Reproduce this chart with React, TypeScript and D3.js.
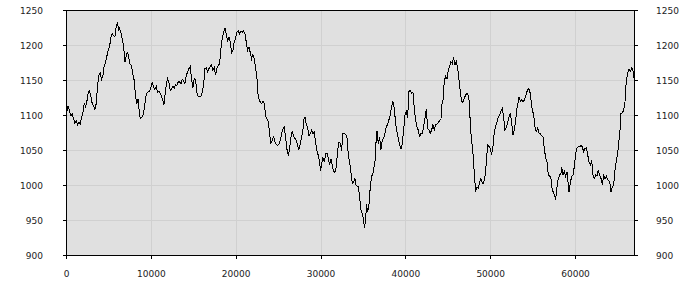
import React from "react";
import * as d3 from "d3";

const xValues: number[] = [
  0, 201, 358, 515, 672, 829, 987, 1144, 1301, 1458, 1615, 1773, 1930, 2087, 2244, 2401, 2559, 2716, 2873, 3030, 3187, 3345, 3502, 3659, 3816, 3973, 4131, 4288, 4445, 4602, 4759, 4917, 5074, 5231, 5388, 5545, 5703, 5860, 6017, 6135, 6253, 6410, 6567, 6724, 6882, 7039, 7196, 7353, 7510, 7668, 7825, 7982, 8139, 8296, 8454, 8611, 8768, 8925, 9082, 9240, 9397, 9554, 9790, 9947, 10104, 10261, 10419, 10576, 10733, 10890,
  11047, 11204, 11361, 11479, 11597, 11754, 11912, 12069, 12226, 12383, 12540, 12698, 12855, 13012, 13169, 13326, 13484, 13641, 13798, 13955, 14112, 14270, 14427, 14584, 14741, 14898, 15056, 15213, 15370, 15527, 15684, 15842, 15999, 16156, 16313, 16470, 16628, 16785, 16942, 17099, 17256, 17414, 17571, 17728, 17885, 18042, 18200, 18357, 18514, 18671, 18828, 18986, 19143, 19300, 19457, 19614, 19772, 19929, 20086, 20243, 20400, 20558, 20715, 20872, 21029, 21186, 21344, 21501, 21658, 21815, 21972, 22130, 22287, 22444,
  22563, 22680, 22838, 22995, 23152, 23309, 23466, 23624, 23781, 23938, 24095, 24252, 24410, 24567, 24724, 24881, 25038, 25196, 25353, 25510, 25667, 25824, 25982, 26139, 26296, 26453, 26610, 26768, 26925, 27082, 27239, 27396, 27554, 27711, 27868, 27986, 28104, 28261, 28418, 28575, 28733, 28890, 29047, 29204, 29361, 29519, 29676, 29833, 29951, 30108, 30226, 30383, 30540, 30698, 30855, 31012, 31169, 31326, 31484, 31641, 31798, 31955, 32112, 32270, 32427, 32584, 32741, 32898, 33056, 33213, 33370, 33527,
  33684, 33841, 33998, 34077, 34234, 34391, 34549, 34706, 34863, 35020, 35138, 35256, 35374, 35492, 35649, 35806, 35963, 36121, 36278, 36435, 36514, 36592, 36749, 36907, 37064, 37221, 37378, 37535, 37693, 37850, 38007, 38164, 38321, 38479, 38636, 38793, 38950, 39107, 39265, 39422, 39579, 39736, 39893, 40051, 40208, 40365, 40522, 40679, 40837, 40994, 41151, 41308, 41465, 41623, 41780, 41937, 42094, 42251, 42409, 42566, 42723, 42880, 43037, 43195, 43352, 43509, 43666, 43823, 43981, 44138, 44216, 44374, 44531, 44688, 44845,
  45002, 45159, 45316, 45474, 45631, 45788, 45945, 46102, 46260, 46417, 46574, 46731, 46888, 47046, 47203, 47360, 47517, 47596, 47753, 47910, 48067, 48225, 48382, 48539, 48696, 48853, 49011, 49168, 49325, 49482, 49639, 49797, 49954, 50111, 50268, 50425, 50583, 50740, 50897, 51054, 51211, 51369, 51526, 51683, 51840, 51997, 52155, 52312, 52469, 52626, 52783, 52941, 53098, 53255, 53334, 53491, 53648, 53805, 53962, 54120, 54277, 54434, 54591, 54748, 54906, 55063, 55220, 55377, 55534, 55692,
  55849, 56006, 56163, 56321, 56478, 56635, 56792, 56949, 57107, 57264, 57421, 57578, 57657, 57814, 57971, 58128, 58286, 58364, 58521, 58679, 58836, 58993, 59150, 59229, 59386, 59543, 59700, 59858, 60015, 60172, 60329, 60486, 60644, 60801, 60958, 61115, 61272, 61430, 61587, 61744, 61901, 62058, 62216, 62373, 62530, 62687, 62844, 63002, 63159, 63316, 63473, 63630, 63788, 63945, 64102, 64181, 64338, 64495, 64652, 64810, 64967, 65124, 65281, 65360, 65517, 65674, 65832, 65989, 66146, 66303, 66460, 66618, 66775, 66932,
];

const prices: number[] = [
  1104, 1114, 1106, 1100, 1102, 1096, 1089, 1093, 1086, 1090, 1088, 1098, 1103, 1117, 1113, 1120, 1133, 1135, 1128, 1117, 1113, 1109, 1117, 1142, 1157, 1161, 1152, 1157, 1171, 1176, 1185, 1193, 1198, 1212, 1217, 1214, 1212, 1227, 1233, 1222, 1225, 1218, 1210, 1200, 1176, 1185, 1191, 1181, 1173, 1171, 1159, 1150, 1128, 1117, 1124, 1099, 1096, 1098, 1103, 1117, 1130, 1133, 1135, 1140, 1147, 1141, 1137, 1142, 1133, 1135,
  1132, 1128, 1121, 1115, 1128, 1143, 1153, 1148, 1136, 1138, 1142, 1139, 1144, 1143, 1148, 1148, 1145, 1152, 1150, 1145, 1157, 1162, 1167, 1170, 1152, 1140, 1153, 1151, 1133, 1127, 1127, 1127, 1133, 1143, 1167, 1168, 1163, 1167, 1170, 1172, 1164, 1169, 1158, 1167, 1171, 1174, 1195, 1210, 1219, 1225, 1217, 1207, 1212, 1206, 1190, 1193, 1205, 1210, 1219, 1221, 1217, 1220, 1219, 1221, 1217, 1205, 1193, 1198, 1190, 1181, 1187, 1181, 1167, 1155,
  1131, 1124, 1119, 1117, 1120, 1117, 1100, 1095, 1092, 1074, 1060, 1064, 1071, 1062, 1059, 1057, 1059, 1064, 1074, 1081, 1083, 1069, 1052, 1043, 1052, 1069, 1078, 1071, 1067, 1065, 1057, 1051, 1060, 1069, 1079, 1095, 1098, 1088, 1083, 1071, 1074, 1079, 1074, 1076, 1062, 1050, 1043, 1033, 1021, 1033, 1040, 1033, 1045, 1046, 1040, 1029, 1038, 1029, 1020, 1019, 1026, 1050, 1062, 1060, 1050, 1074, 1075, 1073, 1069, 1045, 1033, 1019,
  1003, 1005, 1010, 1001, 999, 998, 984, 965, 960, 950, 939, 953, 973, 962, 972, 998, 1013, 1017, 1029, 1041, 1075, 1078, 1060, 1069, 1051, 1065, 1067, 1075, 1084, 1087, 1094, 1101, 1113, 1120, 1110, 1089, 1077, 1067, 1058, 1052, 1060, 1079, 1101, 1106, 1096, 1134, 1136, 1132, 1133, 1110, 1094, 1084, 1079, 1069, 1075, 1074, 1084, 1096, 1109, 1082, 1079, 1075, 1079, 1087, 1080, 1087, 1088, 1090, 1093, 1094, 1115, 1121, 1149, 1156, 1152,
  1165, 1170, 1177, 1174, 1183, 1172, 1177, 1169, 1151, 1134, 1120, 1119, 1125, 1129, 1132, 1129, 1115, 1084, 1065, 1046, 1017, 991, 998, 996, 1005, 1010, 1003, 1003, 1013, 1032, 1058, 1056, 1053, 1044, 1056, 1077, 1084, 1091, 1098, 1101, 1106, 1110, 1098, 1079, 1083, 1090, 1098, 1104, 1090, 1072, 1079, 1094, 1110, 1120, 1127, 1120, 1123, 1120, 1122, 1127, 1134, 1138, 1137, 1122, 1108, 1101, 1084, 1077, 1082, 1075,
  1074, 1071, 1069, 1053, 1039, 1034, 1015, 1014, 1010, 993, 990, 984, 980, 998, 1010, 1015, 1017, 1026, 1015, 1020, 1013, 1019, 1001, 991, 1004, 1013, 1015, 1027, 1046, 1053, 1056, 1055, 1058, 1055, 1048, 1053, 1054, 1044, 1034, 1029, 1036, 1015, 1010, 1015, 1014, 1022, 1015, 1010, 1001, 1014, 1010, 1013, 1008, 1007, 1001, 991, 998, 1001, 1022, 1036, 1046, 1065, 1084, 1103, 1104, 1107, 1120, 1151, 1160, 1166, 1163, 1168, 1164, 1150,
];

const xTicks = [0, 10000, 20000, 30000, 40000, 50000, 60000];
const yTicks = [900, 950, 1000, 1050, 1100, 1150, 1200, 1250];

const W = 700;
const H = 300;
const L = 66;
const R = 634;
const T = 10;
const B = 255;

export default function App() {
  const x = d3.scaleLinear().domain([0, 66950]).range([L + 0.5, R + 0.5]);
  const y = d3.scaleLinear().domain([900, 1250]).range([B + 0.5, T + 0.5]);
  const pts: [number, number][] = xValues.map((v, i) => [v, prices[i]]);
  const line = d3
    .line<[number, number]>()
    .x((d) => x(d[0]))
    .y((d) => y(d[1]));
  const font = { fontFamily: "'DejaVu Sans', Verdana, sans-serif", fontSize: 9, fill: "#222" };
  const snap = (v: number) => Math.floor(v) + 0.5;

  return (
    <svg
      width={W}
      height={H}
      style={{ position: "absolute", left: 0, top: 0, background: "#fff" }}
    >
      <rect x={L} y={T} width={R - L} height={B - T} fill="#e0e0e0" />
      {xTicks.map((t) => (
        <line key={"gx" + t} x1={snap(x(t))} x2={snap(x(t))} y1={T} y2={B} stroke="#d0d0d0" strokeWidth={1} shapeRendering="crispEdges" />
      ))}
      {yTicks.map((t) => (
        <line key={"gy" + t} x1={L} x2={R} y1={snap(y(t))} y2={snap(y(t))} stroke="#d0d0d0" strokeWidth={1} shapeRendering="crispEdges" />
      ))}
      <path d={line(pts) || ""} fill="none" stroke="#000" strokeWidth={1} shapeRendering="crispEdges" />
      <rect x={L + 0.5} y={T + 0.5} width={R - L} height={B - T} fill="none" stroke="#000" strokeWidth={1} shapeRendering="crispEdges" />
      {yTicks.map((t) => (
        <g key={"yt" + t}>
          <line x1={L - 3} x2={L} y1={snap(y(t))} y2={snap(y(t))} stroke="#000" shapeRendering="crispEdges" />
          <line x1={R + 1} x2={R + 4} y1={snap(y(t))} y2={snap(y(t))} stroke="#000" shapeRendering="crispEdges" />
          <text x={43} y={y(t) + 3.3} textAnchor="end" style={font}>{t}</text>
          <text x={656} y={y(t) + 3.3} textAnchor="start" style={font}>{t}</text>
        </g>
      ))}
      {xTicks.map((t) => (
        <g key={"xt" + t}>
          <line x1={snap(x(t))} x2={snap(x(t))} y1={B + 1} y2={B + 4} stroke="#000" shapeRendering="crispEdges" />
          <text x={x(t)} y={277} textAnchor="middle" style={font}>{t}</text>
        </g>
      ))}
    </svg>
  );
}
